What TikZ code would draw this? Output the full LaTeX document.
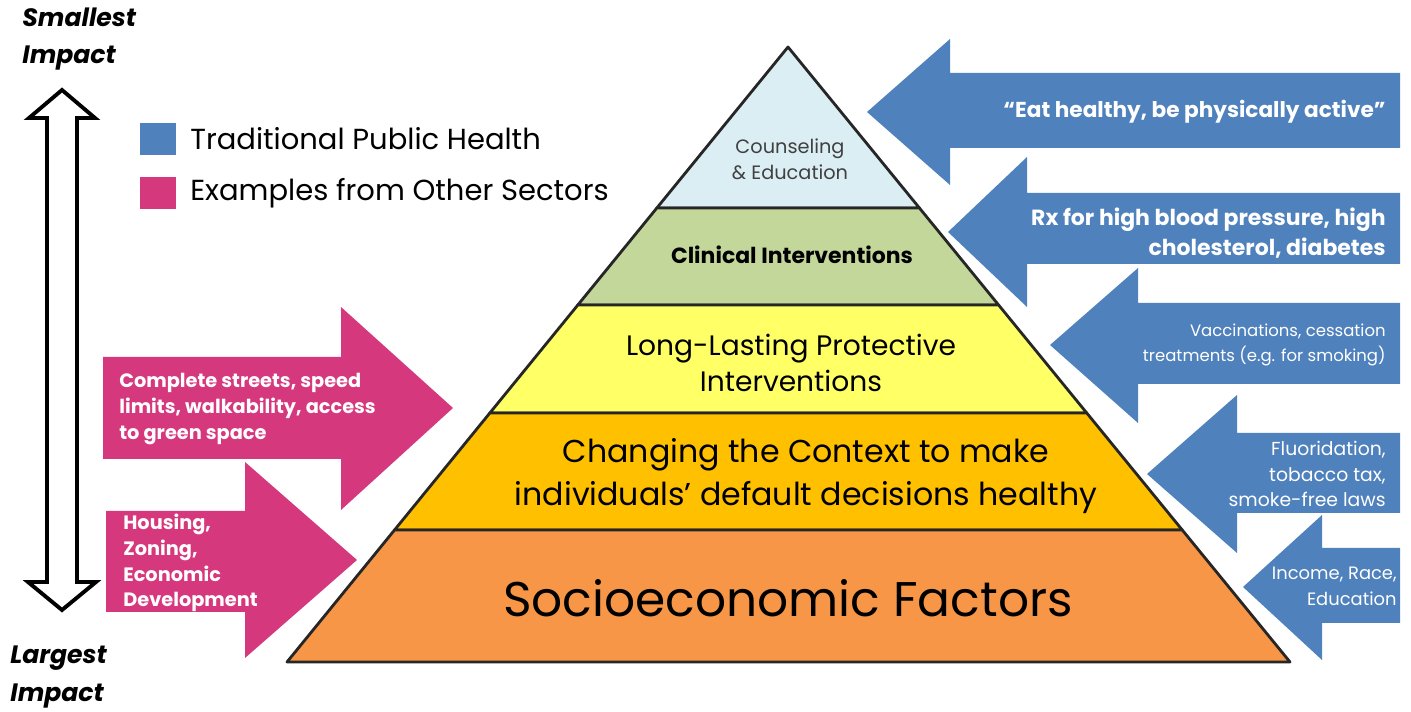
\documentclass[tikz,border=0pt]{standalone}
\usepackage{fontspec}
\setmainfont{Poppins}
\usetikzlibrary{calc}
\definecolor{counselcolor}{RGB}{219,238,244}
\definecolor{clinicalcolor}{RGB}{196,215,155}
\definecolor{protectcolor}{RGB}{255,255,102}
\definecolor{contextcolor}{RGB}{255,192,0}
\definecolor{sociocolor}{RGB}{247,150,70}
\definecolor{tradcolor}{RGB}{79,129,189}
\definecolor{sectorcolor}{RGB}{214,56,126}

\begin{document}
\begin{tikzpicture}[
    x=0.02cm, y=-0.02cm,
    band/.style={draw=black!85, line width=1.6pt, line join=round},
    tradarrow/.style={fill=tradcolor},
    sectorarrow/.style={fill=sectorcolor},
    bandtext/.style={align=center, inner sep=0pt, text=black},
    tradtext/.style={align=right, anchor=east, inner sep=0pt, text=white},
    sectortext/.style={align=left, anchor=west, inner sep=0pt, text=white, font=\fontsize{11}{14.7}\selectfont\bfseries},
    impacttext/.style={align=left, anchor=west, inner sep=0pt, font=\fontsize{14.3}{21.5}\selectfont\bfseries\itshape},
    legendtext/.style={anchor=west, inner sep=0pt, font=\fontsize{16.5}{18}\selectfont}
]

\useasboundingbox (0,0) rectangle (1411,712);

% Impact scale
\draw[line width=2.2pt, fill=white] (62,90) -- (95,118) -- (77,118) -- (77,582) -- (96,582) -- (62,610)
    -- (28,582) -- (47,582) -- (47,118) -- (29,118) -- cycle;
\node[impacttext] (smallest) at (22,39) {Smallest\\Impact};
\node[impacttext] (largest) at (10,677) {Largest\\Impact};

% Legend
\fill[tradcolor] (140,123) rectangle (176,155);
\fill[sectorcolor] (140,177) rectangle (176,209);
\node[legendtext] (tradkey) at (190,139) {Traditional Public Health};
\node[legendtext] (sectorkey) at (190,193) {Examples from Other Sectors};

% Pyramid
\coordinate (apex) at (788,47);
\coordinate (baseL) at (287,662);
\coordinate (baseR) at (1290,662);
\coordinate (l1) at ($(apex)!0.2618!(baseL)$);
\coordinate (r1) at ($(apex)!0.2618!(baseR)$);
\coordinate (l2) at ($(apex)!0.4195!(baseL)$);
\coordinate (r2) at ($(apex)!0.4195!(baseR)$);
\coordinate (l3) at ($(apex)!0.5951!(baseL)$);
\coordinate (r3) at ($(apex)!0.5951!(baseR)$);
\coordinate (l4) at ($(apex)!0.7854!(baseL)$);
\coordinate (r4) at ($(apex)!0.7854!(baseR)$);

\draw[band, fill=counselcolor] (apex) -- (r1) -- (l1) -- cycle;
\draw[band, fill=clinicalcolor] (l1) -- (r1) -- (r2) -- (l2) -- cycle;
\draw[band, fill=protectcolor] (l2) -- (r2) -- (r3) -- (l3) -- cycle;
\draw[band, fill=contextcolor] (l3) -- (r3) -- (r4) -- (l4) -- cycle;
\draw[band, fill=sociocolor] (l4) -- (r4) -- (baseR) -- (baseL) -- cycle;

\node[bandtext, text=black!75, font=\fontsize{11}{14.7}\selectfont] (counsel) at (790,159) {Counseling\\\& Education};
\node[bandtext, font=\fontsize{12.5}{14}\selectfont\bfseries] (clinical) at (792,255) {Clinical Interventions};
\node[bandtext, font=\fontsize{16}{20.4}\selectfont] (protect) at (791,363) {Long-Lasting Protective\\Interventions};
\node[bandtext, font=\fontsize{18}{24}\selectfont] (context) at (806,476) {Changing the Context to make\\individuals’ default decisions healthy};
\node[bandtext, font=\fontsize{27.7}{30}\selectfont] (socio) at (788,598) {Socioeconomic Factors};

% Traditional public health arrows
\fill[tradarrow] (867,112) -- (950,39) -- (950,73) -- (1400,73) -- (1400,148) -- (950,148) -- (950,185) -- cycle;
\fill[tradarrow] (948,232) -- (1027,157) -- (1027,193) -- (1400,193) -- (1400,264) -- (1027,264) -- (1027,307) -- cycle;
\fill[tradarrow] (1050,345) -- (1138,268) -- (1138,303) -- (1400,303) -- (1400,384) -- (1138,384) -- (1138,423) -- cycle;
\fill[tradarrow] (1147,474) -- (1237,395) -- (1237,433) -- (1400,433) -- (1400,513) -- (1237,513) -- (1237,553) -- cycle;
\fill[tradarrow] (1243,587) -- (1322,515) -- (1322,548) -- (1400,548) -- (1400,623) -- (1322,623) -- (1322,660) -- cycle;

\node[tradtext, font=\fontsize{12.3}{17}\selectfont\bfseries] (eat) at (1386,112) {“Eat healthy, be physically active”};
\node[tradtext, font=\fontsize{12.5}{17}\selectfont\bfseries] (rx) at (1386,233) {Rx for high blood pressure, high\\cholesterol, diabetes};
\node[tradtext, font=\fontsize{9.4}{14}\selectfont] (vacc) at (1386,345) {Vaccinations, cessation\\treatments (e.g. for smoking)};
\node[tradtext, font=\fontsize{10.7}{14.5}\selectfont] (fluor) at (1386,474) {Fluoridation,\\tobacco tax,\\smoke-free laws};
\node[tradtext, font=\fontsize{10.2}{14.7}\selectfont] (income) at (1397,586) {Income, Race,\\Education};

% Other sector arrows
\fill[sectorarrow] (103,357) -- (341,357) -- (341,307) -- (453,408) -- (341,510) -- (341,459) -- (103,459) -- cycle;
\fill[sectorarrow] (106,511) -- (245,511) -- (245,462) -- (357,560) -- (245,658) -- (245,612) -- (106,612) -- cycle;

\node[sectortext] (streets) at (119,409) {Complete streets, speed\\limits, walkability, access\\to green space};
\node[sectortext] (housing) at (123,563) {Housing,\\Zoning,\\Economic\\Development};

\end{tikzpicture}
\end{document}
